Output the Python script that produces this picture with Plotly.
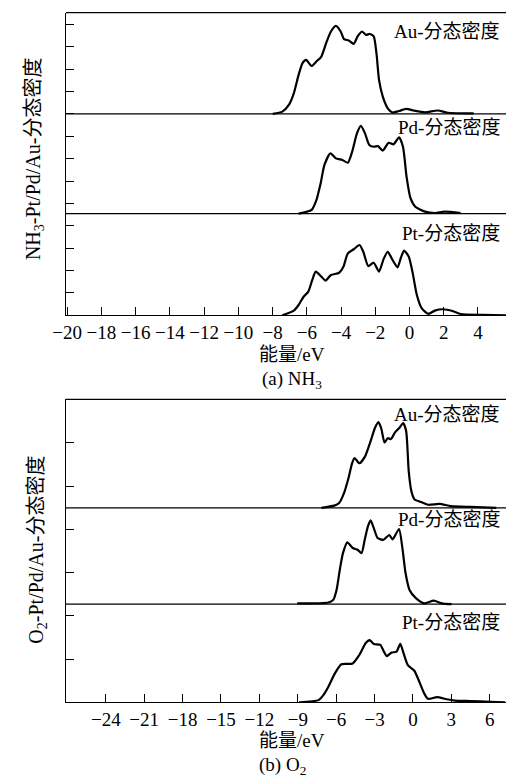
import plotly.graph_objects as go

# ---------------- data (energy in eV, DOS in arbitrary units) ----------------
# (a) NH3
nh3_au_e = [-7.99, -7.43, -7.05, -6.76, -6.48, -6.25, -6.04, -5.72, -5.44, -5.15, -4.87, -4.59, -4.30,
            -4.02, -3.83, -3.55, -3.26, -3.03, -2.78, -2.54, -2.31, -2.09, -1.93, -1.78, -1.56, -1.27,
            -0.99, -0.61, -0.18, 0.24, 0.91, 1.66, 2.23, 3.75]
nh3_au_dos = [0.0, 0.10, 0.40, 0.92, 1.74, 2.27, 2.41, 2.14, 2.34, 2.56, 3.16, 3.68, 3.93,
              3.68, 3.34, 3.28, 3.13, 3.46, 3.68, 3.53, 3.57, 3.46, 2.71, 1.52, 0.77, 0.25,
              0.06, 0.13, 0.22, 0.15, 0.07, 0.15, 0.05, 0.02]

nh3_pd_e = [-6.48, -5.72, -5.44, -5.19, -4.97, -4.62, -4.30, -3.92, -3.60, -3.35, -3.07, -2.84, -2.60,
            -2.35, -2.07, -1.84, -1.56, -1.22, -0.93, -0.61, -0.38, -0.17, 0.06, 0.34, 0.91, 1.48,
            2.05, 2.99]
nh3_pd_dos = [0.0, 0.17, 0.61, 1.36, 2.18, 2.70, 2.47, 2.40, 2.28, 2.77, 3.59, 3.92, 3.59,
              3.07, 2.99, 3.02, 2.82, 3.17, 3.10, 3.41, 2.99, 1.65, 0.69, 0.31, 0.09, 0.03,
              0.09, 0.03]

nh3_pt_e = [-7.43, -6.76, -6.48, -6.19, -5.91, -5.68, -5.48, -5.15, -4.91, -4.59, -4.11, -3.86, -3.60,
            -3.26, -2.92, -2.70, -2.41, -2.09, -1.78, -1.52, -1.27, -0.99, -0.70, -0.51, -0.32,
            -0.04, 0.19, 0.43, 0.72, 1.10, 1.48, 1.95, 2.52, 2.99, 4.28, 5.64]
nh3_pt_dos = [0.0, 0.21, 0.46, 0.83, 1.06, 1.58, 1.95, 1.73, 1.55, 1.80, 1.90, 2.17, 2.77,
              2.95, 3.14, 2.84, 2.20, 2.35, 1.95, 2.50, 2.84, 2.47, 2.14, 2.55, 2.89,
              2.62, 1.88, 0.91, 0.31, 0.06, 0.21, 0.27, 0.19, 0.06, 0.02, 0.0]

# (b) O2
o2_au_e = [-7.16, -6.15, -5.77, -5.39, -5.01, -4.76, -4.56, -4.18, -3.74, -3.31, -2.98, -2.70, -2.48,
           -2.22, -1.97, -1.72, -1.39, -1.09, -0.76, -0.53, -0.33, -0.12, 0.13, 0.68, 1.19, 2.08,
           2.96, 4.48, 6.51]
o2_au_dos = [0.0, 0.05, 0.11, 0.34, 0.72, 1.03, 1.15, 1.03, 1.19, 1.54, 1.84, 1.98, 1.84,
             1.51, 1.61, 1.59, 1.75, 1.84, 1.96, 1.77, 0.84, 0.38, 0.19, 0.13, 0.07, 0.09,
             0.04, 0.02, 0.0]

o2_pd_e = [-9.05, -6.60, -6.23, -5.97, -5.72, -5.47, -5.13, -4.71, -4.33, -4.02, -3.77, -3.52, -3.31,
           -3.06, -2.76, -2.30, -1.85, -1.59, -1.09, -0.84, -0.58, -0.27, 0.23, 0.87, 1.62, 2.26,
           3.02]
o2_pd_dos = [0.02, 0.04, 0.10, 0.33, 0.79, 1.18, 1.43, 1.30, 1.26, 1.18, 1.49, 1.80, 1.94,
             1.76, 1.53, 1.49, 1.60, 1.50, 1.74, 1.33, 0.72, 0.33, 0.14, 0.02, 0.08, 0.02,
             0.0]

o2_pt_e = [-8.90, -7.37, -6.99, -6.61, -6.10, -5.59, -5.21, -4.71, -4.20, -3.69, -3.39, -3.06, -2.55,
           -2.30, -2.05, -1.67, -1.29, -0.99, -0.73, -0.40, 0.11, 0.49, 0.87, 1.17, 1.88, 2.63,
           3.27, 4.53, 6.05, 7.20]
o2_pt_dos = [0.0, 0.05, 0.17, 0.36, 0.67, 0.88, 0.89, 0.90, 1.09, 1.37, 1.44, 1.35, 1.33,
             1.19, 1.07, 1.15, 1.17, 1.35, 1.13, 0.86, 0.73, 0.48, 0.21, 0.08, 0.12, 0.07,
             0.04, 0.03, 0.01, 0.0]

# vertical offsets (baselines) of the stacked curves
nh3_baselines = {"Pt": 0.0, "Pd": 4.54, "Au": 9.0}
o2_baselines = {"Pt": 0.0, "Pd": 2.27, "Au": 4.50}

nh3_xticks = list(range(-20, 5, 2))
o2_xticks = list(range(-24, 7, 3))
nh3_yticks = list(range(1, 14))
o2_yticks = list(range(1, 7))

labels = {"Au": "Au-分态密度", "Pd": "Pd-分态密度", "Pt": "Pt-分态密度"}
nh3_label_y = {"Au": 12.67, "Pd": 8.38, "Pt": 3.66}
o2_label_y = {"Au": 6.65, "Pd": 4.22, "Pt": 1.84}

FONT = "Liberation Serif, 'Noto Sans CJK SC', serif"

W, H = 506, 780
fig = go.Figure()

def px_y(p):
    return 1 - p / H

def tick_text(vals):
    return [("\u2212" + str(-v)) if v < 0 else str(v) for v in vals]

X0 = 53.5 / W
top_dom = [px_y(315.3), px_y(12.7)]
bot_dom = [px_y(702.3), px_y(399.3)]

line_style = dict(color="black", width=2.2, shape="spline", smoothing=0.6)

series_a = {"Au": (nh3_au_e, nh3_au_dos), "Pd": (nh3_pd_e, nh3_pd_dos), "Pt": (nh3_pt_e, nh3_pt_dos)}
series_b = {"Au": (o2_au_e, o2_au_dos), "Pd": (o2_pd_e, o2_pd_dos), "Pt": (o2_pt_e, o2_pt_dos)}

shapes = []
annotations = []

for (series, base, xa, ya, ly) in [(series_a, nh3_baselines, "x", "y", nh3_label_y),
                                   (series_b, o2_baselines, "x2", "y2", o2_label_y)]:
    for k, (e, d) in series.items():
        b = base[k]
        fig.add_trace(go.Scatter(x=e, y=[b + v for v in d], mode="lines", line=line_style,
                                 xaxis=xa, yaxis=ya, showlegend=False, hoverinfo="skip"))
        if b > 0:
            shapes.append(dict(type="line", xref=xa + " domain", yref=ya, x0=0, x1=1, y0=b, y1=b,
                               line=dict(color="black", width=1.2), layer="below"))
        annotations.append(dict(text=labels[k], xref="paper", yref=ya, x=501.5 / W, y=ly[k],
                                xanchor="right", yanchor="middle", showarrow=False,
                                font=dict(family=FONT, size=19, color="black")))
    # top border
    shapes.append(dict(type="line", xref=xa + " domain", yref=ya + " domain", x0=0, x1=1, y0=1, y1=1,
                       line=dict(color="black", width=1.2)))

axis_common = dict(showgrid=False, zeroline=False, showline=True, linecolor="black", linewidth=1.2,
                   ticks="inside", ticklen=8, tickwidth=1.2, tickcolor="black")

fig.update_layout(
    width=W, height=H, margin=dict(l=0, r=0, t=0, b=0),
    paper_bgcolor="white", plot_bgcolor="white",
    font=dict(family=FONT, size=19, color="black"),
    xaxis=dict(domain=[X0, 1], anchor="y", range=[-20.07, 5.64], tickmode="array",
               tickvals=nh3_xticks, ticktext=tick_text(nh3_xticks),
               tickfont=dict(family=FONT, size=19), **axis_common),
    yaxis=dict(domain=top_dom, anchor="x", range=[0, 13.52], tickvals=nh3_yticks,
               showticklabels=False, **axis_common),
    xaxis2=dict(domain=[X0, 1], anchor="y2", range=[-27.11, 7.27], tickmode="array",
                tickvals=o2_xticks, ticktext=tick_text(o2_xticks),
                tickfont=dict(family=FONT, size=19), **axis_common),
    yaxis2=dict(domain=bot_dom, anchor="x2", range=[0, 7.01], tickvals=o2_yticks,
                showticklabels=False, **axis_common),
    shapes=shapes,
)

def ann(text, x, y, angle=0, size=19):
    annotations.append(dict(text=text, xref="paper", yref="paper", x=x / W, y=px_y(y),
                            xanchor="center", yanchor="middle", showarrow=False, textangle=angle,
                            font=dict(family=FONT, size=size, color="black")))

ann("能量/eV", 285.8, 355)
ann("(a) NH<sub>3</sub>", 285.8, 380)
ann("能量/eV", 286.3, 740)
ann("(b) O<sub>2</sub>", 276, 766)
ann("NH<sub>3</sub>-Pt/Pd/Au-分态密度", 21.7, 159, angle=-90, size=20)
ann("O<sub>2</sub>-Pt/Pd/Au-分态密度", 23.3, 550, angle=-90, size=20)

fig.update_layout(annotations=annotations)

fig.write_html("out.html")
